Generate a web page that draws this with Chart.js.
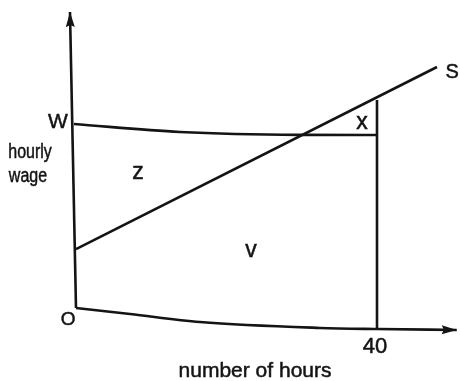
<!DOCTYPE html>
<html>
<head>
<meta charset="utf-8">
<script src="https://cdn.jsdelivr.net/npm/chart.js@4.4.0/dist/chart.umd.min.js"></script>
<style>
  html, body { margin: 0; padding: 0; background: #fff; }
  #wrap { width: 460px; height: 381px; }
</style>
</head>
<body>
<div id="wrap"><canvas id="chart"></canvas></div>
<script>
// hours on x, hourly wage on y (W taken as 10)
const yAxisLine = [[0, 0], [-0.8, 16.17]]
const xAxisLine = [[0, 0], [7.18, -0.33], [16.48, -0.77], [32.42, -1.09], [40, -1.15], [50.6, -1.2]]
const wageLine = [[-0.27, 10.05], [13.82, 9.62], [29.77, 9.46], [40, 9.45]]
const hoursLine = [[40, 11.37], [40, -1.15]]
const supplyLine = [[0, 3.22], [47.97, 13.17]]

const labelTexts = ['S', 'W', 'hourly', 'wage', 'z', 'x', 'v', 'O', '40', 'number of hours']
const labelX = [50.0, -2.39, -6.11, -6.38, 8.24, 38.0, 23.26, -1.06, 39.73, 23.79]
const labelY = [12.57, 9.84, 8.2, 6.89, 7.05, 9.78, 2.79, -0.93, -2.46, -3.77]
const labelSize = [20, 21, 20, 20, 23, 23, 23, 19, 22, 21]
const labelSqueeze = [1, 1, 0.8, 0.8, 1, 1, 1, 1, 1, 1]

const ink = '#141414'

function toPts(arr) {
  return arr.map(p => ({ x: p[0], y: p[1] }))
}

function lineSet(arr, extra) {
  return Object.assign({
    data: toPts(arr),
    showLine: true,
    borderColor: ink,
    borderWidth: 2.6,
    pointRadius: 0,
    fill: false,
    tension: 0
  }, extra || {})
}

// arrow heads at the end of both axes, direction from the last segment
const arrowPlugin = {
  id: 'arrows',
  afterDatasetsDraw(chart) {
    const ctx = chart.ctx
    const xs = chart.scales.x, ys = chart.scales.y
    ;[yAxisLine, xAxisLine].forEach(arr => {
      const a = arr[arr.length - 2], b = arr[arr.length - 1]
      const x1 = xs.getPixelForValue(a[0]), y1 = ys.getPixelForValue(a[1])
      const x2 = xs.getPixelForValue(b[0]), y2 = ys.getPixelForValue(b[1])
      const ang = Math.atan2(y2 - y1, x2 - x1)
      const len = 15, half = 4.5
      ctx.save()
      ctx.translate(x2, y2)
      ctx.rotate(ang)
      ctx.beginPath()
      ctx.moveTo(0, 0)
      ctx.lineTo(-len, -half)
      ctx.lineTo(-len + 2, 0)
      ctx.lineTo(-len, half)
      ctx.closePath()
      ctx.fillStyle = ink
      ctx.fill()
      ctx.restore()
    })
  }
}

const labelPlugin = {
  id: 'labels',
  afterDatasetsDraw(chart) {
    const ctx = chart.ctx
    const xs = chart.scales.x, ys = chart.scales.y
    labelTexts.forEach((t, i) => {
      const px = xs.getPixelForValue(labelX[i])
      const py = ys.getPixelForValue(labelY[i])
      ctx.save()
      ctx.translate(px, py)
      ctx.scale(labelSqueeze[i], 1)
      ctx.font = labelSize[i] + 'px "Liberation Sans", Arial, sans-serif'
      ctx.fillStyle = ink
      ctx.strokeStyle = ink
      ctx.lineWidth = 0.5
      ctx.textAlign = 'center'
      ctx.textBaseline = 'alphabetic'
      ctx.fillText(t, 0, 0)
      ctx.strokeText(t, 0, 0)
      ctx.restore()
    })
  }
}

new Chart(document.getElementById('chart'), {
  type: 'scatter',
  data: {
    datasets: [
      lineSet(yAxisLine),
      lineSet(xAxisLine, { cubicInterpolationMode: 'monotone' }),
      lineSet(wageLine, { cubicInterpolationMode: 'monotone' }),
      lineSet(hoursLine),
      lineSet(supplyLine)
    ]
  },
  options: {
    responsive: true,
    maintainAspectRatio: false,
    animation: false,
    layout: { padding: 0 },
    plugins: {
      legend: { display: false },
      tooltip: { enabled: false }
    },
    scales: {
      x: { type: 'linear', display: false, min: -10.1, max: 51.03 },
      y: { type: 'linear', display: false, min: -3.99, max: 16.83 }
    }
  },
  plugins: [arrowPlugin, labelPlugin]
})
</script>
</body>
</html>
